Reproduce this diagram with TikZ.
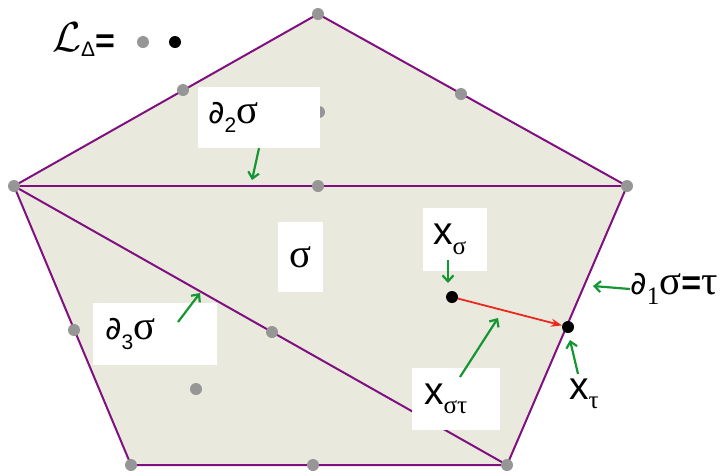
\documentclass[tikz,border=0pt]{standalone}
\usepackage{fontspec}
\setmainfont{Liberation Sans}
\newfontfamily\grkfont[Scale=1.2]{Liberation Serif}
\newfontfamily\symfont{DejaVu Sans}
\usetikzlibrary{arrows.meta}
\definecolor{pLine}{RGB}{128,16,128}
\definecolor{pFill}{RGB}{234,233,222}
\definecolor{gDot}{RGB}{150,150,150}
\definecolor{gArr}{RGB}{22,150,50}
\definecolor{rArr}{RGB}{235,40,30}
\newcommand{\lbl}{\fontsize{34}{40}\selectfont}
\newcommand{\gs}{{\grkfont σ}}
\newcommand{\gt}{{\grkfont τ}}
\newcommand{\xx}{{\fontsize{39}{40}\selectfont x}}
\newcommand{\pd}{{\symfont\fontsize{32}{40}\selectfont ∂}}
\newcommand{\subs}[1]{\raisebox{-0.28em}{\fontsize{21}{24}\selectfont #1}}
\tikzset{
  edge/.style={draw=pLine, line width=2pt, line join=round},
  gdot/.style={circle, fill=gDot, minimum size=12pt, inner sep=0pt},
  bdot/.style={circle, fill=black, minimum size=12pt, inner sep=0pt},
  labbox/.style={fill=white, inner ysep=0pt, align=left, font=\lbl},
  garr/.style={-{Straight Barb[length=6pt, width=11pt]}, draw=gArr, line width=2.2pt},
  rarr/.style={-{Stealth[length=11pt, width=8pt]}, draw=rArr, line width=1.8pt},
}
\begin{document}
\begin{tikzpicture}[x=1pt, y=-1pt]
  \useasboundingbox (0,0) rectangle (728,475);

  % --- corners of the pentagon ---
  \coordinate (vT) at (318,14);
  \coordinate (vL) at (14,186);
  \coordinate (vR) at (627,186);
  \coordinate (vBL) at (131,465);
  \coordinate (vBR) at (507,465);

  % --- cells ---
  \fill[pFill] (vT) -- (vR) -- (vBR) -- (vBL) -- (vL) -- cycle;
  \draw[edge] (vL) -- (vT) -- (vR) -- (vBR) -- (vBL) -- cycle;
  \draw[edge] (vL) -- (vR);
  \draw[edge] (vL) -- (vBR);

  % --- lattice points ---
  \foreach \n/\x/\y in {gT/318/14, gTL/183/90, gTR/461/94, gIn/319/112,
                        gL/14/186, gM/318/186, gR/627/186, gLe/74/330,
                        gD/272/332, gIn2/196/389, gBL/131/465, gB/313/465,
                        gBR/507/465}
    \node[gdot] (\n) at (\x,\y) {};

  % --- legend ---
  \node[anchor=west, inner sep=0pt] (leg) at (52,40)
    {\raisebox{0.05em}{\scalebox{4.2}{$\mathcal{L}$}}\raisebox{-0.45em}{\fontsize{21}{21}\selectfont Δ}{\fontsize{34}{34}\selectfont\bfseries =}};
  \node[gdot] (legG) at (143,42) {};
  \node[bdot] (legB) at (175,42) {};

  % --- labels ---
  \node[labbox, text width=102pt, inner xsep=10pt, minimum height=61pt] (d2lab) at (259,117.5) {\pd\subs{2}\gs};
  \node[labbox, text width=100pt, inner xsep=12pt, minimum height=62pt] (d3lab) at (155,334) {\pd\subs{3}\gs};
  \node[labbox, minimum width=45pt, minimum height=70pt, inner xsep=0pt] (slab) at (300.5,257) {\gs};
  \node[labbox, text width=44pt, inner xsep=10pt, minimum height=63pt] (xslab) at (455,239.5) {\xx\subs{\gs}};
  \node[labbox, text width=64pt, inner xsep=12pt, minimum height=62pt] (xstlab) at (456,399) {\xx\subs{\gs\gt}};
  \node[font=\lbl, inner sep=0pt, anchor=west] (xtlab) at (569,394) {\xx\subs{\gt}};
  \node[font=\lbl, inner sep=0pt, anchor=west] (d1lab) at (630,289) {\pd\subs{\grkfont 1}\gs{\bfseries =}\gt};

  % --- arrow ends ---
  \coordinate (a2) at (252,180);
  \coordinate (t3) at (178,322);
  \coordinate (a3) at (200,293);
  \coordinate (ts) at (448,260);
  \coordinate (as) at (448,283);
  \coordinate (tst) at (460,377);
  \coordinate (ast) at (498,318);
  \coordinate (tt) at (578,374);
  \coordinate (at) at (570,340);
  \coordinate (a1) at (593,286);

  % --- green pointers ---
  \draw[garr] (d2lab.south) -- (a2);
  \draw[garr] (t3) -- (a3);
  \draw[garr] (ts) -- (as);
  \draw[garr] (tst) -- (ast);
  \draw[garr] (tt) -- (at);
  \draw[garr] (d1lab.west) -- (a1);

  % --- points x_sigma and x_tau ---
  \node[bdot] (bS) at (452,297) {};
  \node[bdot] (bT) at (568,327) {};
  \draw[rarr] (bS) -- (bT);
\end{tikzpicture}
\end{document}
